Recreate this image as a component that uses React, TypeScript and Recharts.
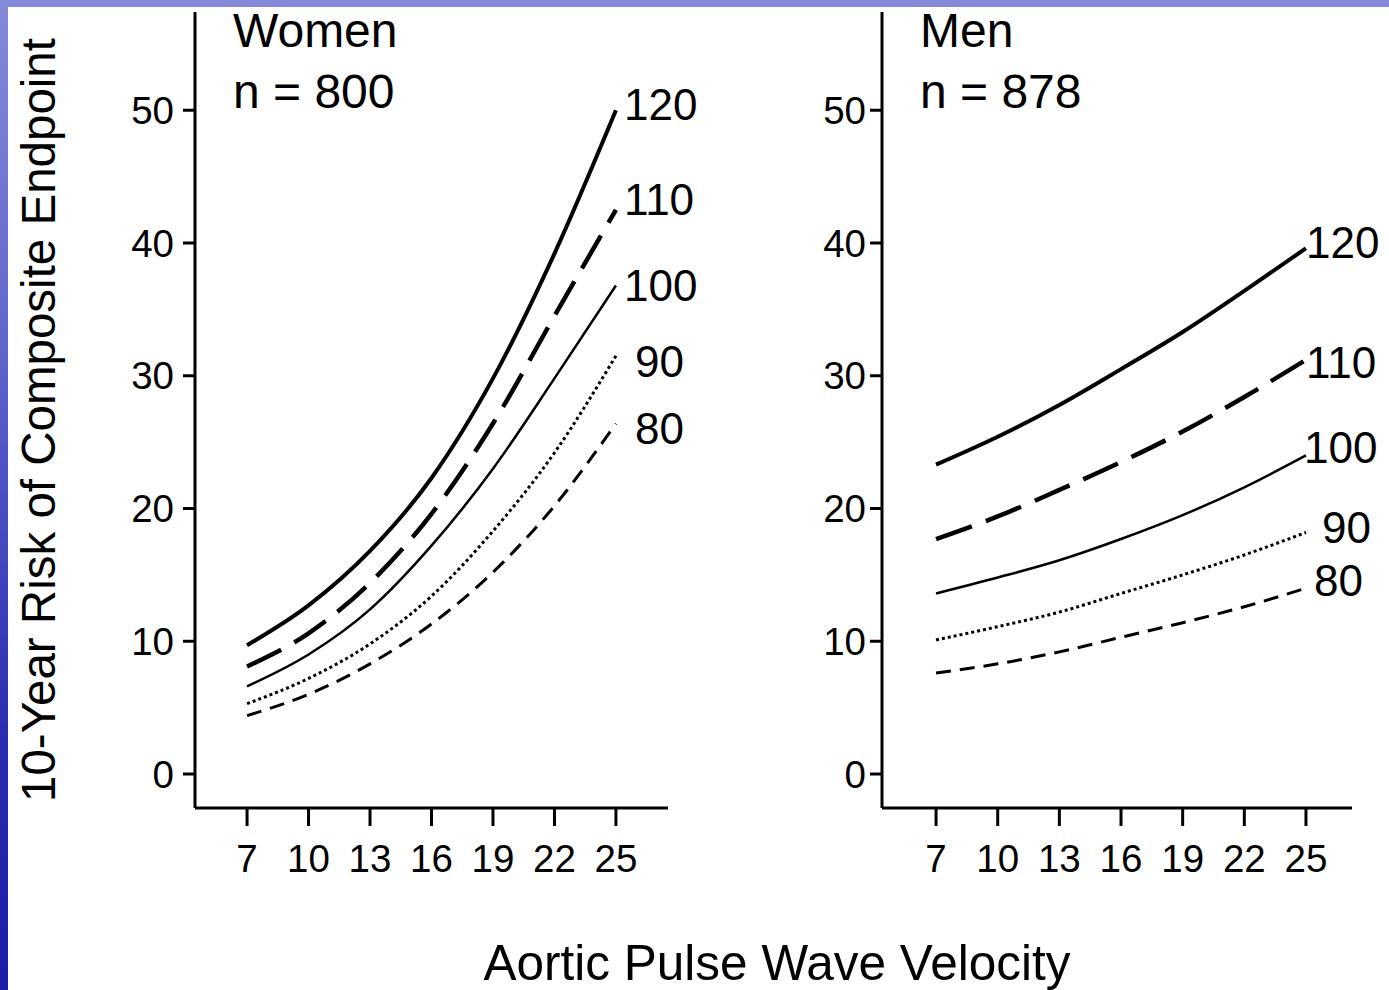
import { LineChart, Line, XAxis, YAxis, LabelList } from "recharts";

const FONT = "'Liberation Sans', Arial, Helvetica, sans-serif";

const pwvTicks = [7, 10, 13, 16, 19, 22, 25];
const riskTicks = [0, 10, 20, 30, 40, 50];
const sbpLevels = ["120", "110", "100", "90", "80"];

// 10-year risk (%) read at each PWV tick, per SBP level
const women120 = [9.7, 12.7, 16.8, 22.3, 29.8, 39.2, 50.0];
const women110 = [8.1, 10.6, 14.4, 19.6, 26.4, 34.5, 42.5];
const women100 = [6.6, 9.0, 12.4, 17.2, 23.0, 29.8, 36.8];
const women90 = [5.3, 7.2, 9.8, 13.4, 18.3, 24.2, 31.5];
const women80 = [4.4, 6.0, 8.3, 11.3, 15.2, 20.2, 26.4];

const men120 = [23.3, 25.4, 27.8, 30.5, 33.3, 36.4, 39.6];
const men110 = [17.7, 19.4, 21.4, 23.5, 25.8, 28.4, 31.2];
const men100 = [13.6, 14.8, 16.1, 17.7, 19.5, 21.6, 24.0];
const men90 = [10.1, 11.1, 12.2, 13.6, 15.0, 16.5, 18.2];
const men80 = [7.6, 8.3, 9.2, 10.3, 11.4, 12.6, 14.0];

function buildRows(series: number[][]) {
  const last = pwvTicks.length - 1;
  return pwvTicks.map((pwv, i) => {
    const row: Record<string, number | string | undefined> = { pwv };
    sbpLevels.forEach((lvl, s) => {
      row["s" + lvl] = series[s][i];
      row["tag" + lvl] = i === last ? lvl : undefined;
    });
    return row;
  });
}

const womenRows = buildRows([women120, women110, women100, women90, women80]);
const menRows = buildRows([men120, men110, men100, men90, men80]);

const lineStyles: Record<string, { width: number; dash?: string }> = {
  "120": { width: 4 },
  "110": { width: 4.5, dash: "38 15" },
  "100": { width: 2.5 },
  "90": { width: 3, dash: "3 3" },
  "80": { width: 3, dash: "15 9" },
};

// where each end label sits relative to the last point [dx, dy to baseline]
const womenTagOffset: Record<string, [number, number]> = {
  "120": [8, 10],
  "110": [8, 5],
  "100": [8, 16],
  "90": [19, 21],
  "80": [19, 20],
};
const menTagOffset: Record<string, [number, number]> = {
  "120": [0, 10],
  "110": [0, 18],
  "100": [-2, 8],
  "90": [16, 11],
  "80": [8, 8],
};

const Y_AXIS_W = 120;
const X_AXIS_H = 80;

interface PanelProps {
  rows: Record<string, number | string | undefined>[];
  left: number;
  width: number;
  axisX: number;
  plotRight: number;
  xDomain: [number, number];
  tickGap: number;
  offsets: Record<string, [number, number]>;
}

function Panel({ rows, left, width, axisX, plotRight, xDomain, tickGap, offsets }: PanelProps) {
  return (
    <div style={{ position: "absolute", left, top: 0 }}>
      <LineChart
        width={width}
        height={990}
        data={rows}
        margin={{ top: 12, right: width - plotRight, bottom: 990 - 808 - X_AXIS_H, left: axisX - Y_AXIS_W }}
      >
        <XAxis
          dataKey="pwv"
          type="number"
          domain={xDomain}
          ticks={pwvTicks}
          allowDataOverflow
          height={X_AXIS_H}
          tickSize={18}
          tickMargin={19}
          axisLine={{ stroke: "#000", strokeWidth: 3 }}
          tickLine={{ stroke: "#000", strokeWidth: 3 }}
          tick={{ fill: "#000", fontSize: 38.5, fontFamily: FONT }}
        />
        <YAxis
          type="number"
          domain={[-2.56, 57.4]}
          ticks={riskTicks}
          allowDataOverflow
          width={Y_AXIS_W}
          tickSize={12}
          tickMargin={tickGap}
          axisLine={{ stroke: "#000", strokeWidth: 3 }}
          tickLine={{ stroke: "#000", strokeWidth: 3 }}
          tick={{ fill: "#000", fontSize: 38.5, fontFamily: FONT }}
        />
        {sbpLevels.map((lvl) => (
          <Line
            key={lvl}
            type="monotone"
            dataKey={"s" + lvl}
            stroke="#000"
            strokeWidth={lineStyles[lvl].width}
            strokeDasharray={lineStyles[lvl].dash}
            dot={false}
            activeDot={false}
            isAnimationActive={false}
          >
            <LabelList
              dataKey={"tag" + lvl}
              content={(p: any) => {
                if (p.value === undefined || p.value === null || p.value === "") return null;
                const x = p.x ?? p.viewBox?.x;
                const y = p.y ?? p.viewBox?.y;
                const [dx, dy] = offsets[lvl];
                return (
                  <text x={x + dx} y={y + dy} fill="#000" fontSize={44} fontFamily={FONT}>
                    {p.value}
                  </text>
                );
              }}
            />
          </Line>
        ))}
      </LineChart>
    </div>
  );
}

export default function App() {
  return (
    <div
      style={{
        position: "absolute",
        left: 0,
        top: 0,
        width: 1389,
        height: 990,
        overflow: "hidden",
        background: "linear-gradient(180deg, #8589d9 0%, #6166cc 35%, #2a2cb0 75%, #1c1ca8 100%)",
      }}
    >
      <div style={{ position: "absolute", left: 8, top: 7, width: 1381, height: 983, background: "#fff" }} />
      <Panel
        rows={womenRows}
        left={0}
        width={700}
        axisX={195}
        plotRight={668}
        xDomain={[4.46, 27.54]}
        tickGap={9}
        offsets={womenTagOffset}
      />
      <Panel
        rows={menRows}
        left={700}
        width={689}
        axisX={182}
        plotRight={652}
        xDomain={[4.37, 27.24]}
        tickGap={4}
        offsets={menTagOffset}
      />
      <svg
        width={1389}
        height={990}
        style={{ position: "absolute", left: 0, top: 0, pointerEvents: "none" }}
        fontFamily={FONT}
        fill="#000"
      >
        <text x={233} y={47} fontSize={48}>Women</text>
        <text x={233} y={108} fontSize={48}>n = 800</text>
        <text x={920} y={47} fontSize={48}>Men</text>
        <text x={920} y={108} fontSize={48}>n = 878</text>
        <text x={777} y={980} fontSize={49.5} textAnchor="middle">Aortic Pulse Wave Velocity</text>
        <text transform="translate(55,420) rotate(-90)" fontSize={47.5} textAnchor="middle">
          10-Year Risk of Composite Endpoint
        </text>
      </svg>
    </div>
  );
}
